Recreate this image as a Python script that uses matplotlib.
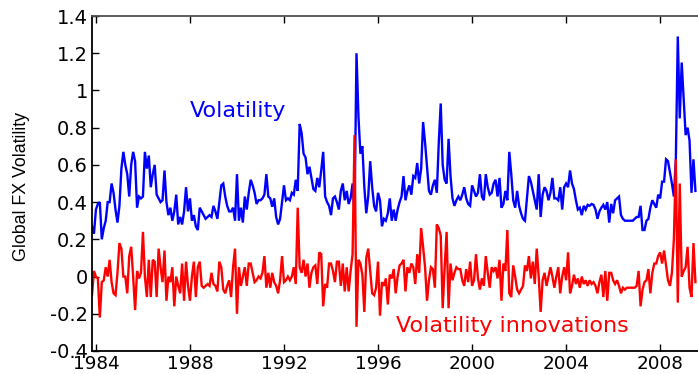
import numpy as np
import pandas as pd
import matplotlib
matplotlib.use("Agg")
import matplotlib.pyplot as plt
from matplotlib import font_manager

start_month = "1983-11"

# Global FX volatility (monthly, Nov 1983 - Jul 2009)
volatility = [
    0.27, 0.23,
    0.36, 0.39, 0.40, 0.20, 0.26, 0.30, 0.40, 0.40, 0.50, 0.45, 0.36, 0.29,   # 1984
    0.38, 0.58, 0.67, 0.60, 0.55, 0.43, 0.60, 0.67, 0.62, 0.37, 0.43, 0.42,   # 1985
    0.43, 0.67, 0.58, 0.65, 0.48, 0.55, 0.60, 0.44, 0.42, 0.40, 0.41, 0.57,   # 1986
    0.40, 0.33, 0.37, 0.30, 0.35, 0.44, 0.28, 0.32, 0.28, 0.35, 0.48, 0.35,   # 1987
    0.42, 0.30, 0.33, 0.27, 0.25, 0.37, 0.35, 0.33, 0.31, 0.32, 0.33, 0.32,   # 1988
    0.38, 0.35, 0.31, 0.40, 0.49, 0.50, 0.43, 0.38, 0.35, 0.35, 0.37, 0.30,   # 1989
    0.55, 0.30, 0.37, 0.29, 0.43, 0.36, 0.45, 0.52, 0.49, 0.45, 0.39, 0.41,   # 1990
    0.41, 0.42, 0.44, 0.55, 0.43, 0.42, 0.375, 0.42, 0.32, 0.28, 0.31, 0.40,  # 1991
    0.49, 0.41, 0.42, 0.41, 0.45, 0.44, 0.52, 0.46, 0.82, 0.77, 0.66, 0.64,   # 1992
    0.55, 0.59, 0.53, 0.47, 0.46, 0.53, 0.48, 0.57, 0.67, 0.43, 0.40, 0.38,   # 1993
    0.33, 0.42, 0.43, 0.40, 0.36, 0.46, 0.50, 0.41, 0.46, 0.39, 0.42, 0.50,   # 1994
    0.34, 1.20, 0.86, 0.66, 0.70, 0.48, 0.34, 0.43, 0.62, 0.48, 0.38, 0.35,   # 1995
    0.45, 0.41, 0.27, 0.31, 0.30, 0.34, 0.42, 0.30, 0.36, 0.30, 0.36, 0.40,   # 1996
    0.43, 0.54, 0.41, 0.46, 0.49, 0.44, 0.54, 0.53, 0.61, 0.50, 0.58, 0.83,   # 1997
    0.72, 0.59, 0.46, 0.44, 0.49, 0.52, 0.45, 0.72, 0.93, 0.60, 0.52, 0.50,   # 1998
    0.74, 0.54, 0.42, 0.38, 0.41, 0.43, 0.41, 0.44, 0.48, 0.42, 0.39, 0.38,   # 1999
    0.49, 0.46, 0.43, 0.45, 0.55, 0.43, 0.41, 0.55, 0.48, 0.44, 0.45, 0.50,   # 2000
    0.52, 0.43, 0.53, 0.37, 0.39, 0.46, 0.41, 0.67, 0.55, 0.41, 0.37, 0.46,   # 2001
    0.38, 0.34, 0.31, 0.30, 0.42, 0.54, 0.51, 0.46, 0.41, 0.36, 0.55, 0.32,   # 2002
    0.44, 0.48, 0.46, 0.41, 0.45, 0.53, 0.42, 0.42, 0.41, 0.48, 0.36, 0.48,   # 2003
    0.50, 0.48, 0.57, 0.50, 0.47, 0.41, 0.36, 0.37, 0.33, 0.38, 0.36, 0.385,  # 2004
    0.38, 0.39, 0.385, 0.36, 0.31, 0.35, 0.37, 0.385, 0.36, 0.40, 0.29, 0.39, # 2005
    0.34, 0.41, 0.42, 0.43, 0.33, 0.31, 0.30, 0.30, 0.30, 0.30, 0.30, 0.31,   # 2006
    0.32, 0.32, 0.38, 0.25, 0.25, 0.30, 0.31, 0.37, 0.41, 0.39, 0.37, 0.44,   # 2007
    0.42, 0.51, 0.51, 0.63, 0.62, 0.56, 0.50, 0.43, 0.63, 1.29, 0.85, 1.15,   # 2008
    0.95, 0.76, 0.80, 0.73, 0.45, 0.63, 0.46,                                 # 2009
]

# Volatility innovations (monthly, Nov 1983 - Jul 2009)
innovations = [
    -0.10, 0.03,
    0.00, -0.01, -0.22, -0.03, -0.02, 0.05, 0.00, 0.09, -0.03, -0.09, -0.10, 0.02,   # 1984
    0.18, 0.15, 0.00, 0.00, -0.09, 0.11, 0.16, 0.00, -0.18, 0.03, -0.01, 0.02,       # 1985
    0.24, 0.00, -0.11, 0.09, -0.11, 0.09, 0.08, -0.11, 0.15, 0.05, -0.03, 0.14,      # 1986
    -0.13, 0.00, -0.03, 0.05, -0.16, 0.00, -0.05, -0.09, 0.07, -0.13, 0.08, -0.05,   # 1987
    -0.13, 0.00, 0.08, -0.11, 0.05, 0.08, -0.05, -0.06, -0.05, -0.04, -0.05, 0.02,   # 1988
    -0.04, -0.05, -0.08, 0.08, 0.05, -0.07, -0.09, -0.05, -0.02, -0.11, 0.05, 0.15,  # 1989
    -0.20, 0.05, -0.05, 0.00, 0.05, -0.05, 0.07, 0.07, 0.02, -0.03, -0.02, 0.00,     # 1990
    -0.01, 0.02, 0.11, -0.06, 0.02, -0.06, 0.02, -0.03, -0.05, -0.09, -0.02, 0.11,   # 1991
    -0.03, -0.02, 0.00, -0.02, 0.00, 0.05, -0.04, 0.37, 0.05, 0.02, 0.09, 0.00,      # 1992
    0.07, -0.06, 0.02, 0.05, 0.06, -0.04, 0.13, 0.12, -0.16, -0.04, -0.06, 0.07,     # 1993
    0.07, 0.03, -0.03, 0.08, 0.08, -0.05, 0.07, -0.08, 0.05, -0.08, 0.03, 0.12,      # 1994
    0.76, -0.27, 0.09, 0.07, 0.01, -0.19, 0.10, 0.15, 0.03, -0.09, -0.10, -0.06,     # 1995
    0.08, -0.21, -0.03, -0.05, -0.01, -0.15, 0.01, -0.01, 0.04, -0.09, 0.00, 0.06,   # 1996
    0.07, 0.09, -0.08, 0.05, 0.02, 0.07, 0.05, -0.04, 0.12, 0.02, 0.26, 0.16,        # 1997
    0.05, -0.13, -0.02, 0.05, 0.04, -0.06, 0.28, 0.26, 0.22, -0.17, 0.05, 0.24,      # 1998
    -0.17, 0.07, -0.02, 0.02, 0.05, 0.04, 0.04, -0.02, -0.05, 0.04, -0.03, 0.08,     # 1999
    -0.05, -0.02, 0.12, -0.01, -0.07, -0.01, -0.05, 0.11, 0.02, -0.06, 0.05, 0.03,   # 2000
    0.05, -0.01, 0.09, -0.13, 0.07, 0.03, 0.25, -0.09, -0.11, 0.06, 0.00, -0.07,     # 2001
    -0.09, -0.07, -0.05, 0.06, 0.03, 0.11, -0.01, 0.08, -0.04, 0.15, 0.00, -0.19,    # 2002
    -0.02, 0.02, -0.05, 0.00, 0.05, 0.00, -0.06, 0.00, 0.05, -0.09, 0.00, 0.05,      # 2003
    -0.02, 0.13, -0.09, -0.05, 0.01, -0.04, -0.01, -0.06, 0.00, -0.04, -0.02, -0.05, # 2004
    -0.02, -0.04, -0.03, -0.05, -0.09, -0.03, 0.01, -0.11, 0.03, -0.13, 0.02, 0.02,  # 2005
    -0.02, -0.04, -0.02, -0.05, -0.09, -0.06, -0.07, -0.06, -0.06, -0.06, -0.06, -0.06,  # 2006
    -0.05, 0.03, -0.16, -0.07, -0.03, -0.02, 0.04, -0.09, 0.02, 0.07, 0.07, 0.11,    # 2007
    0.13, 0.07, 0.14, 0.06, -0.02, -0.05, 0.02, 0.20, 0.63, -0.14, 0.50, 0.00,       # 2008
    0.03, 0.05, 0.16, -0.06, -0.11, 0.18, -0.03,                                     # 2009
]

x_ticks = [1984, 1988, 1992, 1996, 2000, 2004, 2008]
x_tick_labels = ["1984", "1988", "1992", "1996", "2000", "2004", "2008"]
y_ticks = [-0.4, -0.2, 0.0, 0.2, 0.4, 0.6, 0.8, 1.0, 1.2, 1.4]
y_tick_labels = ["-0.4", "-0.2", "0", "0.2", "0.4", "0.6", "0.8", "1", "1.2", "1.4"]

label_vol = "Volatility"
label_innov = "Volatility innovations"
y_label = "Global FX Volatility"


def decimal_time(n):
    d = pd.date_range(start_month, periods=n, freq="MS")
    return np.asarray(d.year + (d.month - 1) / 12.0, dtype=float)


t_vol = decimal_time(len(volatility))
t_inn = decimal_time(len(innovations))

# y-label font: narrow sans if available
try:
    font_manager.findfont("Liberation Sans Narrow", fallback_to_default=False)
    ylab_font = dict(family="Liberation Sans Narrow", size=14.5)
except Exception:
    ylab_font = dict(family="Liberation Sans", size=12.8)

W, H = 698, 374
fig = plt.figure(figsize=(W / 100, H / 100), dpi=100)
ax_left, ax_top, ax_bottom = 92, 16, 351
ax = fig.add_axes([ax_left / W, (H - ax_bottom) / H, (W - ax_left) / W, (ax_bottom - ax_top) / H])

ax.plot(t_vol, volatility, color="#0000ff", lw=1.7, solid_joinstyle="miter")
ax.plot(t_inn, innovations, color="#ff0000", lw=1.7, solid_joinstyle="miter")

px_per_year = 23.51
x0 = 1983 + 10 / 12
ax.set_xlim(x0, x0 + (W - ax_left) / px_per_year)
ax.set_ylim(-0.4, 1.4)

ax.set_xticks(x_ticks)
ax.set_xticklabels(x_tick_labels)
ax.set_yticks(y_ticks)
ax.set_yticklabels(y_tick_labels)

ax.tick_params(axis="both", direction="in", length=5, width=1, colors="black",
               top=True, right=False)
ax.tick_params(axis="x", pad=3, labelsize=13.2)
ax.tick_params(axis="y", pad=3, labelsize=14)
for lab in ax.get_xticklabels() + ax.get_yticklabels():
    lab.set_family("DejaVu Sans")

ax.spines["right"].set_visible(False)
ax.spines["left"].set_linewidth(1.3)
ax.spines["bottom"].set_linewidth(1.3)
ax.spines["top"].set_color("#505050")
ax.spines["top"].set_linewidth(1.3)

ax.set_ylabel(y_label, va="center", **ylab_font)
ax.yaxis.set_label_coords((22 - ax_left) / (W - ax_left), 0.49)

ax.text(1988.0, 0.856, label_vol, color="#0000ff", fontsize=16,
        family="DejaVu Sans", ha="left", va="baseline")
ax.text(1996.75, -0.296, label_innov, color="#ff0000", fontsize=16,
        family="DejaVu Sans", ha="left", va="baseline")

fig.savefig("out.png", dpi=100)
